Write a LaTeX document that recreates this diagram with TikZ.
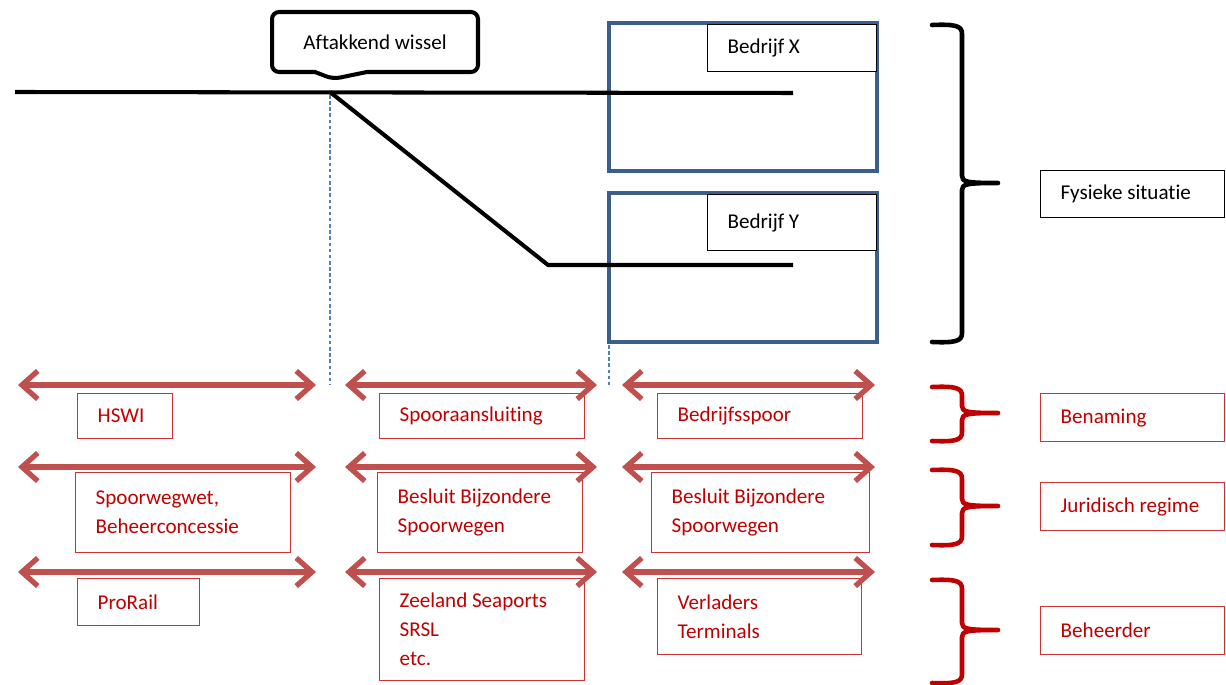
\documentclass[tikz,border=0pt]{standalone}
\usepackage{fontspec}
\setmainfont{Carlito}[Ligatures=NoCommon]
\usetikzlibrary{arrows.meta,shapes.callouts}
\definecolor{firmblue}{RGB}{59,94,140}
\definecolor{guideblue}{RGB}{79,129,189}
\definecolor{arrowred}{RGB}{192,80,77}
\definecolor{textred}{RGB}{192,0,0}
\definecolor{edgered}{RGB}{204,51,51}

\begin{document}
\begin{tikzpicture}[x=0.02cm,y=-0.02cm,
  every node/.style={font=\fontsize{12}{16.5}\selectfont},
  track/.style={line width=2.3pt},
  guide/.style={guideblue,dash pattern=on 2pt off 1.5pt,line width=0.6pt},
  firm/.style={firmblue,line width=2.6pt},
  blackbox/.style={draw,fill=white,line width=0.6pt,anchor=north west,align=flush left,inner xsep=0.4cm,inner ysep=0pt},
  redbox/.style={blackbox,draw=edgered,text=textred,line width=0.8pt},
  rangearrow/.style={arrowred,line width=3pt,{Straight Barb[length=9pt,width=16pt]}-{Straight Barb[length=9pt,width=16pt]}},
  bracket/.style={line width=2.6pt,line join=round,line cap=round}]
  \useasboundingbox (0,0) rectangle (1226,685);

  \draw[firm] (609,23) rectangle (877,171);
  \draw[firm] (609,193) rectangle (877,342);

  \coordinate (trackstart) at (15,92);
  \coordinate (switch) at (330,92);
  \coordinate (endX) at (793,93);
  \coordinate (bend) at (548,265);
  \coordinate (endY) at (793,265);
  \coordinate (tip) at (333,79);
  \coordinate (guideAtop) at (330,95);
  \coordinate (guideAbot) at (330,385);
  \coordinate (guideBtop) at (609,345);
  \coordinate (guideBbot) at (609,385);

  \draw[guide] (guideAtop) -- (guideAbot);
  \draw[guide] (guideBtop) -- (guideBbot);
  \draw[track] (trackstart) -- (endX);
  \draw[track] (switch) -- (bend) -- (endY);

  \node[rectangle callout,draw,fill=white,line width=2.3pt,rounded corners=4pt,inner sep=0pt,
    minimum width=4.12cm,minimum height=1.2cm,callout absolute pointer={(tip)},
    callout pointer width=1.04cm] (wissel) at (375,42) {Aftakkend wissel};
  \node[blackbox,text width=2.58cm,minimum height=0.94cm] (labelX) at (707,24) {Bedrijf X};
  \node[blackbox,text width=2.58cm,minimum height=1.12cm] (labelY) at (707,194) {Bedrijf Y};
  \node[blackbox,text width=2.88cm,minimum height=0.94cm] (physical) at (1040,170) {Fysieke situatie};

  \node[redbox,text width=1.1cm,minimum height=0.9cm] (hswi) at (77,393) {HSWI};
  \node[redbox,text width=3.3cm,minimum height=0.9cm] (connname) at (379,393) {Spooraansluiting};
  \node[redbox,text width=3.3cm,minimum height=0.9cm] (firmname) at (657,393) {Bedrijfsspoor};
  \node[redbox,text width=3.5cm,minimum height=1.6cm] (infralaw) at (75,472) {Spoorwegwet,\\Beheerconcessie};
  \node[redbox,text width=3.3cm,minimum height=1.6cm] (connlaw) at (377,472) {Besluit Bijzondere\\Spoorwegen};
  \node[redbox,text width=3.56cm,minimum height=1.6cm] (firmlaw) at (651,472) {Besluit Bijzondere\\Spoorwegen};
  \node[redbox,text width=1.64cm,minimum height=0.94cm] (prorail) at (77,578) {ProRail};
  \node[redbox,text width=3.3cm,minimum height=2.04cm] (connmanager) at (379,578) {Zeeland Seaports\\SRSL\\etc.};
  \node[redbox,text width=3.28cm,minimum height=1.52cm] (firmmanager) at (657,578) {Verladers\\Terminals};

  \node[redbox,text width=2.88cm,minimum height=0.96cm] (naming) at (1040,393) {Benaming};
  \node[redbox,text width=2.88cm,minimum height=0.96cm] (legal) at (1040,482) {Juridisch regime};
  \node[redbox,text width=2.88cm,minimum height=0.96cm] (manager) at (1040,606) {Beheerder};

  \foreach \y [count=\r] in {385,467,572} {
    \coordinate (infraL\r) at (18,\y);
    \coordinate (infraR\r) at (316,\y);
    \coordinate (connL\r) at (345,\y);
    \coordinate (connR\r) at (597,\y);
    \coordinate (firmL\r) at (622,\y);
    \coordinate (firmR\r) at (875,\y);
    \draw[rangearrow] (infraL\r) -- (infraR\r);
    \draw[rangearrow] (connL\r) -- (connR\r);
    \draw[rangearrow] (firmL\r) -- (firmR\r);
  }

  \foreach \ta/\tm/\tb/\col in {25/183/342/black,387/413/441/textred,470/506/545/textred,580/630/683/textred}
    \draw[bracket,\col] (932,\ta) .. controls (956,\ta-1) and (962,\ta+1) .. (962,\ta+9) -- (962,\tm-7)
      .. controls (962,\tm-1) and (967,\tm) .. (998,\tm) .. controls (967,\tm) and (962,\tm+1) .. (962,\tm+7)
      -- (962,\tb-9) .. controls (962,\tb-1) and (956,\tb+1) .. (932,\tb);
\end{tikzpicture}
\end{document}
